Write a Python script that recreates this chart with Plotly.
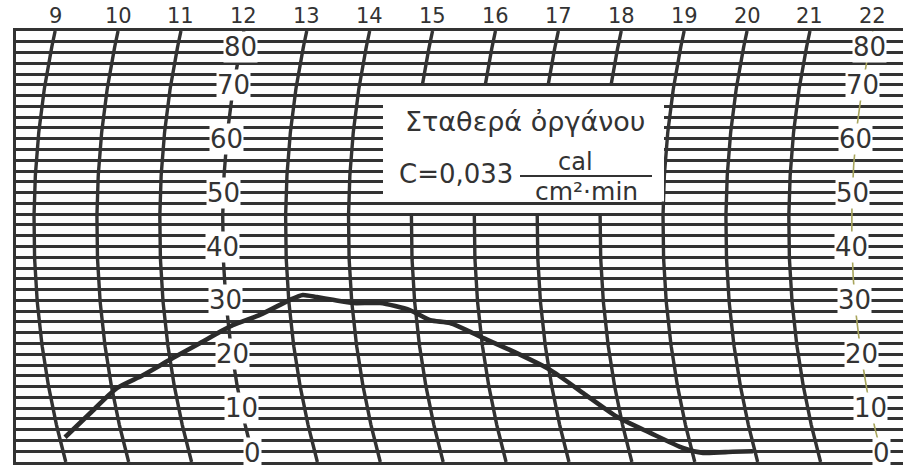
import numpy as np
import plotly.graph_objects as go

# ---- data ----
hour_labels = list(range(9, 23))
value_ticks = [0, 10, 20, 30, 40, 50, 60, 70, 80]
time_h = [9.09, 9.58, 10.08, 10.53, 11.05, 11.52, 12.07, 12.52, 13.02, 13.23, 13.45,
          13.70, 14.02, 14.45, 14.91, 15.22, 15.53, 16.03, 16.53, 17.02, 17.48, 17.94,
          18.41, 18.87, 19.17, 19.65, 19.97]
radiation = [4.6, 9.1, 13.7, 16.1, 19.3, 22.1, 25.4, 27.3, 30.1, 31.0, 30.6,
             30.1, 29.5, 29.5, 28.2, 26.3, 25.8, 23.0, 20.2, 17.1, 12.8, 8.4,
             5.4, 2.6, 1.7, 1.9, 2.0]
title_line = "Σταθερά ὀργάνου"
const_text = "C=0,033"
unit_num = "cal"
unit_den = "cm²·min"

# ---- chart paper geometry ----
W, H = 903, 466
L, T, B = 16, 31, 462
PXH = 62.9                      # px per hour
PXV = (B - T) / 80.0            # px per unit
X0 = 9 - (34 - L) / PXH
X1 = X0 + (W - L) / PXH
R = 900.0                       # radius of the hour arcs (px)
VC = (B - 225) / PXV            # value at which arcs are leftmost

def arc_h(v):
    dy = (np.asarray(v, dtype=float) - VC) * PXV
    return (R - np.sqrt(R * R - dy * dy)) / PXH

INK = "#333333"
fig = go.Figure()

vv = np.linspace(0, 80, 161)
for h in hour_labels:
    if 15 <= h <= 18:
        segs = [vv[vv >= 70], vv[vv <= 46]]
    else:
        segs = [vv]
    xs, ys = [], []
    for s in segs:
        xs += list(h + arc_h(s)) + [None]
        ys += list(s) + [None]
    if h == 22:
        color, width = "#a8a55c", 1.6
    else:
        color, width = INK, 3.4
    fig.add_trace(go.Scatter(x=xs, y=ys, mode="lines",
                             line=dict(color=color, width=width),
                             hoverinfo="skip", showlegend=False))

# recorded trace
ct = np.array(time_h) + arc_h(radiation)
fig.add_trace(go.Scatter(x=ct, y=radiation, mode="lines",
                         line=dict(color="#2b2b2b", width=4.6, shape="spline", smoothing=0.6),
                         showlegend=False, hoverinfo="skip"))

# white box for the constant
bx0 = X0 + (383 - L) / PXH
bx1 = X0 + (664 - L) / PXH
shapes = [dict(type="rect", xref="x", yref="y", x0=bx0, x1=bx1, y0=48.35, y1=67.65,
               fillcolor="white", line=dict(width=0), layer="above"),
          dict(type="line", xref="paper", yref="paper",
               x0=(520 - L) / (W - L), x1=(652 - L) / (W - L),
               y0=(B - 176) / (B - T), y1=(B - 176) / (B - T),
               line=dict(color=INK, width=2.2), layer="above")]

ann = []
FONT = "DejaVu Sans"
# hour labels on top
for h in hour_labels:
    ann.append(dict(x=h + float(arc_h(80)), y=80, xref="x", yref="y", text=str(h),
                    showarrow=False, yshift=15, xanchor="center", yanchor="middle",
                    font=dict(family=FONT, size=21, color=INK)))
# value labels along the 12 and 22 hour lines
for v in value_ticks:
    shift = 0
    if v == 80:
        shift = -16
    elif v == 0:
        shift = 9
    vpos = v + shift / PXV
    for h in (12, 22):
        ann.append(dict(x=h + float(arc_h(vpos)), y=v, xref="x", yref="y", text=str(v),
                        showarrow=False, yshift=shift, bgcolor="white", borderpad=0,
                        xanchor="center", yanchor="middle",
                        font=dict(family=FONT, size=26, color=INK)))

def px(xp, yp):
    return (xp - L) / (W - L), (B - yp) / (B - T)

for txt, (xp, yp), size in [(title_line, (525, 122), 27),
                            (const_text, (456, 174), 26),
                            (unit_num, (575, 162), 24),
                            (unit_den, (586, 191), 25)]:
    x, y = px(xp, yp)
    ann.append(dict(x=x, y=y, xref="paper", yref="paper", text=txt, showarrow=False,
                    xanchor="center", yanchor="middle",
                    font=dict(family=FONT, size=size, color=INK)))

fig.update_layout(
    width=W, height=H, margin=dict(l=L, r=0, t=T, b=H - B),
    paper_bgcolor="white", plot_bgcolor="white",
    shapes=shapes, annotations=ann,
    xaxis=dict(range=[X0, X1], showgrid=False, zeroline=False, showticklabels=False,
               ticks="", showline=True, mirror=True, linecolor=INK, linewidth=3),
    yaxis=dict(range=[0, 80], tick0=0, dtick=2, showgrid=True, gridcolor=INK, gridwidth=2.8,
               zeroline=False, showticklabels=False, ticks="",
               showline=True, linecolor=INK, linewidth=3),
)
fig.write_html("out.html", config={"displayModeBar": False},
               post_script="document.body.style.margin='0';document.body.style.overflow='hidden';")
